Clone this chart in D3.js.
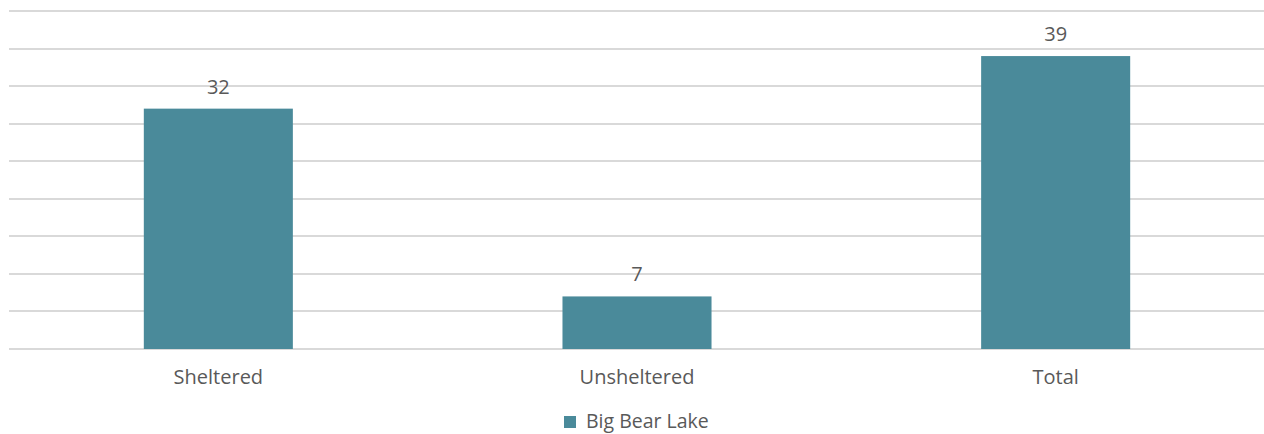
<!DOCTYPE html>
<html>
<head>
<meta charset="utf-8">
<script src="https://cdn.jsdelivr.net/npm/d3@7"></script>
<style>
  body { margin: 0; background: #fff; }
  text { font-family: "Open Sans", "Liberation Sans", sans-serif; fill: #595959; }
</style>
</head>
<body>
<script>
const categories = ["Sheltered", "Unsheltered", "Total"];
const values = [32, 7, 39];
const seriesName = "Big Bear Lake";
const yTicks = [0, 5, 10, 15, 20, 25, 30, 35, 40, 45];

const W = 1264, H = 434;
const plotLeft = 9, plotRight = 1265, plotTop = 11, plotBottom = 349;

const svg = d3.select("body")
  .append("svg")
    .attr("width", W)
    .attr("height", H);

const x = d3.scaleBand()
  .domain(categories)
  .range([plotLeft, plotRight])
  .paddingInner(0.644)
  .paddingOuter(0.322);

const y = d3.scaleLinear().domain([0, 45]).range([plotBottom, plotTop]);

// gridlines
svg.append("g")
  .selectAll("line")
  .data(yTicks)
  .join("line")
    .attr("x1", plotLeft)
    .attr("x2", plotRight)
    .attr("y1", d => Math.round(y(d)))
    .attr("y2", d => Math.round(y(d)))
    .attr("stroke", "#d9d9d9")
    .attr("stroke-width", 2);

// bars
svg.append("g")
  .selectAll("rect")
  .data(values)
  .join("rect")
    .attr("x", (d, i) => x(categories[i]))
    .attr("y", d => y(d))
    .attr("width", x.bandwidth())
    .attr("height", d => y(0) - y(d))
    .attr("fill", "#4a8a9a");

// value labels
svg.append("g")
  .selectAll("text")
  .data(values)
  .join("text")
    .attr("x", (d, i) => x(categories[i]) + x.bandwidth() / 2)
    .attr("y", d => y(d) - 15)
    .attr("text-anchor", "middle")
    .attr("font-size", 20)
    .text(d => d);

// category axis
const xAxis = svg.append("g")
  .attr("transform", `translate(0,${plotBottom})`)
  .call(d3.axisBottom(x).tickSize(0).tickPadding(21));
xAxis.select(".domain").remove();
xAxis.selectAll("text")
  .attr("font-size", 20)
  .attr("font-family", null)
  .attr("fill", null);

// legend
const lg = svg.append("g").attr("transform", "translate(564,422)");
lg.append("rect")
  .attr("x", 0).attr("y", -6)
  .attr("width", 12).attr("height", 12)
  .attr("fill", "#4a8a9a");
lg.append("text")
  .attr("x", 22).attr("y", 0)
  .attr("dy", "0.33em")
  .attr("font-size", 19.5)
  .text(seriesName);
</script>
</body>
</html>
